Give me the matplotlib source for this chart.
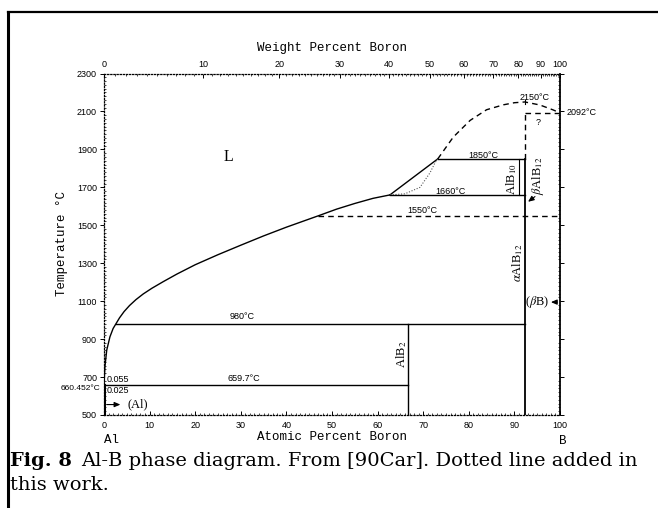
import matplotlib
matplotlib.use("Agg")
import matplotlib.pyplot as plt
from matplotlib.lines import Line2D
import numpy as np

plt.rcParams['mathtext.fontset'] = 'stix'

# ---- data: Al-B phase diagram (atomic % B, temperature in deg C) ----
liquidus_at = [0.0, 0.2, 0.6, 1.3, 2.0, 2.6, 3.4, 4.4, 5.6, 7.0, 8.6, 10.5, 13.0,
               16.0, 20.0, 25.0, 30.0, 35.0, 40.0, 47.0, 51.0, 55.0, 59.0, 62.7]
liquidus_T = [660.452, 754, 842, 912, 956, 980, 1012, 1045, 1077, 1108, 1138, 1168,
              1203, 1243, 1292, 1345, 1395, 1444, 1490, 1550, 1585, 1615, 1642, 1660]

upper_liq_at = [62.7, 73.2]
upper_liq_T = [1660, 1850]

dotted_at = [62.7, 66.0, 69.3, 71.5, 72.6, 73.2]
dotted_T = [1660, 1666, 1700, 1777, 1830, 1850]

dashed_at = [73.2, 76.6, 80.3, 83.9, 87.6, 90.0, 92.3, 95.6, 98.5, 100.0]
dashed_T = [1850, 1965, 2053, 2109, 2135, 2146, 2150, 2134, 2108, 2092]

T_Al_melt = 660.452
T_eut_Al = 659.7
T_peri_AlB2 = 980
T_peri_AlB12 = 1660
T_AlB10 = 1850
T_trans_AlB12 = 1550
T_AlB12_max = 2150
T_B_melt = 2092

x_liq_980 = 2.6
x_AlB2 = 66.7
x_AlB10 = 90.9
x_AlB12 = 92.3
x_peri_1660 = 62.7
x_AlB10_liq = 73.2
x_1550_start = 47.0

top_wt_ticks = [0, 10, 20, 30, 40, 50, 60, 70, 80, 90, 100]
bottom_ticks = [0, 10, 20, 30, 40, 50, 60, 70, 80, 90, 100]
temp_ticks = [500, 700, 900, 1100, 1300, 1500, 1700, 1900, 2100, 2300]

M_B, M_AL = 10.811, 26.982


def wt_to_at(w):
    w = np.asarray(w, dtype=float)
    nb = w / M_B
    na = (100.0 - w) / M_AL
    return 100.0 * nb / (nb + na)


W, H = 658, 508
fig = plt.figure(figsize=(W / 100, H / 100), dpi=100)


def fx(px):
    return px / W


def fy(py):
    return 1 - py / H


ax = fig.add_axes([fx(104), fy(415), fx(560) - fx(104), fy(73.5) - fy(415)])
ax.set_xlim(0, 100)
ax.set_ylim(500, 2300)

LW = 1.0
k = 'black'
sans = 'Liberation Sans'
serif = 'Liberation Serif'
mono = 'Liberation Mono'

# liquidus and phase boundaries
ax.plot(liquidus_at, liquidus_T, color=k, lw=LW)
ax.plot(upper_liq_at, upper_liq_T, color=k, lw=LW)
ax.plot(dotted_at, dotted_T, color='0.35', lw=0.8, ls=(0, (1, 1.5)))
ax.plot(dashed_at, dashed_T, color=k, lw=LW, ls=(0, (4, 3)))

ax.plot([0, 0], [500, T_Al_melt], color=k, lw=2.2)
ax.plot([0, x_AlB2], [T_eut_Al, T_eut_Al], color=k, lw=LW)
ax.plot([x_liq_980, x_AlB12], [T_peri_AlB2, T_peri_AlB2], color=k, lw=LW)
ax.plot([x_AlB2, x_AlB2], [500, T_peri_AlB2], color=k, lw=LW)
ax.plot([x_AlB12, x_AlB12], [500, T_AlB10], color=k, lw=1.3)
ax.plot([x_peri_1660, x_AlB12], [T_peri_AlB12, T_peri_AlB12], color=k, lw=LW)
ax.plot([x_AlB10_liq, x_AlB12], [T_AlB10, T_AlB10], color=k, lw=LW)
ax.plot([x_AlB10, x_AlB10], [T_peri_AlB12, T_AlB10], color=k, lw=0.8)
ax.plot([x_1550_start, 100], [T_trans_AlB12, T_trans_AlB12], color=k, lw=LW,
        ls=(0, (4, 3)))
ax.plot([x_AlB12, x_AlB12], [T_AlB10, T_B_melt], color=k, lw=LW, ls=(0, (4, 3)))
ax.plot([x_AlB12, 100], [T_B_melt, T_B_melt], color=k, lw=LW, ls=(0, (4, 3)))
ax.plot([x_AlB12, x_AlB12], [T_AlB12_max - 12, T_AlB12_max + 12], color=k, lw=0.8)

# annotations
ann = dict(fontsize=6.5, family=sans, color=k)
ax.text(27.2, 1860, 'L', fontsize=11.5, family=serif, ha='center', va='center')
ax.text(83.2, 1868, f'{T_AlB10:.0f}°C', ha='center', va='center', **ann)
ax.text(75.9, 1677, f'{T_peri_AlB12:.0f}°C', ha='center', va='center', **ann)
ax.text(69.7, 1577, f'{T_trans_AlB12:.0f}°C', ha='center', va='center', **ann)
ax.text(94.5, 2174, f'{T_AlB12_max:.0f}°C', ha='center', va='center', **ann)
ax.text(101.5, T_B_melt, f'{T_B_melt:.0f}°C', ha='left', va='center', clip_on=False, **ann)
ax.text(95.3, 2044, '?', ha='center', va='center', **ann)
ax.text(30.2, 1017, f'{T_peri_AlB2:.0f}°C', ha='center', va='center', **ann)
ax.text(30.6, 690, f'{T_eut_Al}°C', ha='center', va='center', **ann)
ax.text(0.5, 686, '0.055', ha='left', va='center', **ann)
ax.text(0.5, 630, '0.025', ha='left', va='center', **ann)
ax.text(-0.9, 638, f'{T_Al_melt}°C', ha='right', va='center', clip_on=False,
        fontsize=6, family=sans, color=k)

ph = dict(fontsize=9, family=serif, rotation=90, ha='center', va='center')
ax.text(65.3, 821, 'AlB$_2$', **ph)
ax.text(89.3, 1745, 'AlB$_{10}$', **ph)
ax.text(95.2, 1760, r'$\beta$AlB$_{12}$', **ph)
ax.text(90.8, 1305, r'$\alpha$AlB$_{12}$', **ph)
ax.text(95.0, 1095, r'($\beta$B)', fontsize=9, family=serif, ha='center', va='center')
ax.text(7.4, 555, '(Al)', fontsize=9, family=serif, ha='center', va='center')

arrow = dict(arrowstyle='-|>,head_length=0.35,head_width=0.15', color=k, lw=0.8)
ax.annotate('', xy=(97.4, 1095), xytext=(100, 1095), arrowprops=arrow)
ax.annotate('', xy=(4.2, 555), xytext=(0, 555), arrowprops=arrow)
ax.annotate('', xy=(92.5, 1615), xytext=(95.0, 1660), arrowprops=arrow)

# axes styling
dot = (0, (1, 1.5))
for side in ('left', 'bottom', 'top'):
    ax.spines[side].set_linestyle(dot)
    ax.spines[side].set_linewidth(0.9)
ax.spines['top'].set_visible(False)
ax.spines['right'].set_linewidth(1.3)

ax.set_yticks(temp_ticks)
ax.set_yticks(np.arange(500, 2301, 20), minor=True)
ax.set_xticks(bottom_ticks)
ax.set_xticks(np.arange(0, 101, 1), minor=True)
ax.tick_params(axis='y', which='major', direction='out', length=3, width=0.7, pad=2,
               labelsize=6.5, right=True)
ax.tick_params(axis='y', which='minor', direction='in', length=1.5, width=0.5, right=True)
ax.tick_params(axis='x', which='major', direction='in', length=3, width=0.7, pad=4,
               labelsize=6.5)
ax.tick_params(axis='x', which='minor', direction='in', length=1.2, width=0.5)
for lab in ax.get_xticklabels() + ax.get_yticklabels():
    lab.set_family(sans)

ax2 = ax.twiny()
ax2.set_xlim(0, 100)
ax2.set_xticks(wt_to_at(top_wt_ticks))
ax2.set_xticklabels([str(v) for v in top_wt_ticks])
ax2.set_xticks(wt_to_at(np.arange(0, 101, 1)), minor=True)
ax2.tick_params(axis='x', which='major', direction='in', length=3, width=0.7, pad=3,
                labelsize=6.5)
ax2.tick_params(axis='x', which='minor', direction='in', length=1.2, width=0.5)
for lab in ax2.get_xticklabels():
    lab.set_family(sans)
for side in ('left', 'right', 'bottom'):
    ax2.spines[side].set_visible(False)
ax2.spines['top'].set_linestyle(dot)
ax2.spines['top'].set_linewidth(0.9)

# axis titles
fig.text(fx(332), fy(48), 'Weight Percent Boron', family=mono, fontsize=9,
         ha='center', va='center')
fig.text(fx(332), fy(437), 'Atomic Percent Boron', family=mono, fontsize=9,
         ha='center', va='center')
fig.text(fx(62), fy(244), 'Temperature °C', family=mono, fontsize=9,
         ha='center', va='center', rotation=90)
fig.text(fx(111), fy(440), 'Al', family=mono, fontsize=9, ha='center', va='center')
fig.text(fx(563), fy(441), 'B', family=mono, fontsize=9, ha='center', va='center')

# frame lines
fig.add_artist(Line2D([fx(8), fx(8)], [0, fy(12)], color=k, lw=2.2))
fig.add_artist(Line2D([fx(8), 1], [fy(12), fy(12)], color=k, lw=1.6))

# caption
cap_family = 'DejaVu Serif'
cap_size = 14
t1 = fig.text(fx(10), fy(461), 'Fig. 8', family=cap_family, fontsize=cap_size,
              fontweight='bold', ha='left', va='center')
renderer = fig.canvas.get_renderer()
bb = t1.get_window_extent(renderer)
fig.text(bb.x1 / W + fx(9), fy(461),
         'Al-B phase diagram. From [90Car]. Dotted line added in',
         family=cap_family, fontsize=cap_size, ha='left', va='center')
fig.text(fx(10), fy(485), 'this work.', family=cap_family, fontsize=cap_size,
         ha='left', va='center')

fig.savefig('out.png', dpi=100)
